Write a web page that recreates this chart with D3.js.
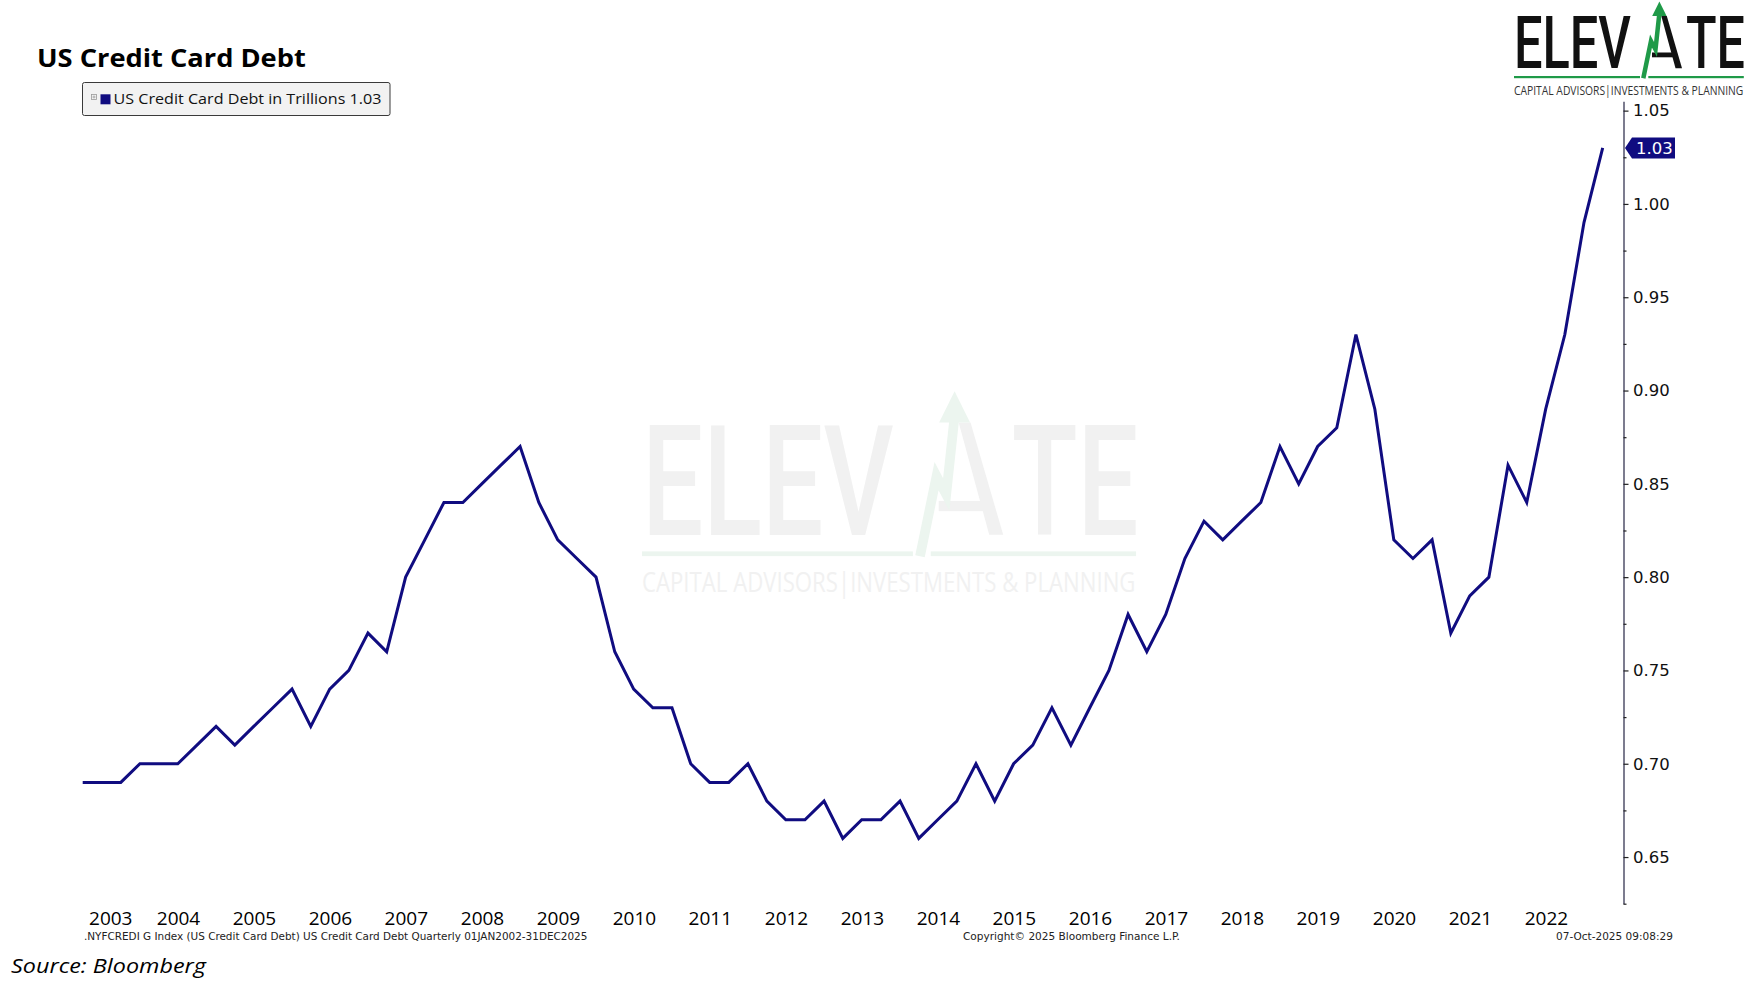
<!DOCTYPE html>
<html><head><meta charset="utf-8">
<script src="https://cdn.jsdelivr.net/npm/d3@7"></script>
<style>body{margin:0;background:#fff} svg{display:block}</style>
</head><body>
<svg id="chart" width="1752" height="985"></svg>
<script>
// ---------------- data ----------------
const chartTitle = "US Credit Card Debt";
const seriesName = "US Credit Card Debt in Trillions";
const firstYear = 2003;      // first observation: 2003 Q1 (quarter-end dated)
const firstQuarter = 1;
const debtValues = [
  0.69,0.69,0.69,0.70,0.70,0.70,0.71,0.72,0.71,0.72,
  0.73,0.74,0.72,0.74,0.75,0.77,0.76,0.80,0.82,0.84,
  0.84,0.85,0.86,0.87,0.84,0.82,0.81,0.80,0.76,0.74,
  0.73,0.73,0.70,0.69,0.69,0.70,0.68,0.67,0.67,0.68,
  0.66,0.67,0.67,0.68,0.66,0.67,0.68,0.70,0.68,0.70,
  0.71,0.73,0.71,0.73,0.75,0.78,0.76,0.78,0.81,0.83,
  0.82,0.83,0.84,0.87,0.85,0.87,0.88,0.93,0.89,0.82,
  0.81,0.82,0.77,0.79,0.80,0.86,0.84,0.89,0.93,0.99,
  1.03
];
const yearLabels = [2003,2004,2005,2006,2007,2008,2009,2010,2011,2012,2013,2014,2015,2016,2017,2018,2019,2020,2021,2022];
const yTickValues = [0.65,0.70,0.75,0.80,0.85,0.90,0.95,1.00,1.05];
const yMinorTicks = [0.625,0.675,0.725,0.775,0.825,0.875,0.925,0.975,1.025];
const footLeft = ".NYFCREDI G Index (US Credit Card Debt) US Credit Card Debt Quarterly 01JAN2002-31DEC2025";
const footMid = "Copyright\u00A9 2025 Bloomberg Finance L.P.";
const footRight = "07-Oct-2025 09:08:29";
const sourceText = "Source: Bloomberg";
const logoWord1 = "ELEV", logoWord2 = "TE";
const logoTag = "CAPITAL ADVISORS|INVESTMENTS & PLANNING";

// ---------------- setup ----------------
const svg = d3.select("#chart");
const NAVY = "#100c80";
const GREEN = "#1f9a48";
const axisX = 1623.5;

function quarterEnd(i){
  const q0 = (firstQuarter - 1) + i;
  const yr = firstYear + Math.floor(q0/4);
  const q = q0 % 4;
  return new Date(yr, 3*(q+1), 0);
}
const series = debtValues.map((v,i)=>({date: quarterEnd(i), value: v}));

const x = d3.scaleTime()
  .domain([series[0].date, series[series.length-1].date])
  .range([82.7, 1602.7]);
const y = d3.scaleLinear().domain([0.625, 1.055]).range([903.7, 101.3]);

// place text at (px,py) and compress horizontally to width w
function squeeze(sel, px, py, w){
  sel.attr("x",0).attr("y",0);
  const nat = sel.node().getComputedTextLength();
  sel.attr("transform", `translate(${px},${py}) scale(${w/nat},1)`);
  return sel;
}

// ---------------- logo ----------------
function drawLogo(g, c){
  const lf = "Roboto, 'Noto Sans', sans-serif";
  squeeze(g.append("text").attr("font-family",lf).attr("font-weight",500)
    .attr("font-size",71.5).attr("fill",c.ink).text(logoWord1), 0, 68.3, 117);
  squeeze(g.append("text").attr("font-family",lf).attr("font-weight",500)
    .attr("font-size",71.5).attr("fill",c.ink).text(logoWord2), 172, 68.3, 59);
  // right leg of A
  g.append("path").attr("d","M147.3,16 L152.8,16 L168,68.3 L161.5,68.3 Z").attr("fill",c.ink);
  // crossbar
  g.append("rect").attr("x",138).attr("y",52.5).attr("width",23).attr("height",4.8).attr("fill",c.ink);
  // green lightning arrow
  g.append("path").attr("d","M129.3,78.3 L137,41 L141.5,49.5 L145.3,14")
    .attr("fill","none").attr("stroke",c.green).attr("stroke-width",4.5)
    .attr("stroke-linejoin","miter").attr("stroke-miterlimit",6);
  g.append("path").attr("d","M145.4,1.5 L152.6,16 L138.2,16 Z").attr("fill",c.green);
  // underline
  g.append("rect").attr("x",0).attr("y",76).attr("width",126).attr("height",2.2).attr("fill",c.green);
  g.append("rect").attr("x",134.3).attr("y",76).attr("width",95.5).attr("height",2.2).attr("fill",c.green);
  squeeze(g.append("text").attr("font-family","'Open Sans', 'Noto Sans', sans-serif")
    .attr("font-size",12.3).attr("fill",c.tag).text(logoTag), 0, 95, 229.5);
}

// watermark
const wm = svg.append("g").attr("transform","translate(642,388) scale(2.15)");
drawLogo(wm, {ink:"#f1f1f1", green:"#ecf5ef", tag:"#f1f1f1"});
// top-right logo
const lg = svg.append("g").attr("transform","translate(1514,0)");
drawLogo(lg, {ink:"#111", green:GREEN, tag:"#333"});

// ---------------- title & legend ----------------
squeeze(svg.append("text")
  .attr("font-family","'Open Sans', 'Noto Sans', sans-serif").attr("font-weight",700)
  .attr("font-size",25.5).attr("fill","#000").text(chartTitle), 37, 66.7, 269);

const leg = svg.append("g");
leg.append("rect").attr("x",82.5).attr("y",82.5).attr("width",307.5).attr("height",33).attr("rx",2)
  .attr("fill","#f2f2f2").attr("stroke","#3a3a3a").attr("stroke-width",1);
leg.append("rect").attr("x",91.5).attr("y",94.5).attr("width",5).attr("height",5)
  .attr("fill","none").attr("stroke","#999").attr("stroke-width",0.8);
leg.append("path").attr("d","M92.5,97 H95.5 M94,95.5 V98.5").attr("stroke","#999").attr("stroke-width",0.8);
leg.append("rect").attr("x",100.5).attr("y",94.3).attr("width",10).attr("height",10).attr("fill",NAVY);
squeeze(leg.append("text")
  .attr("font-family","'Open Sans', 'Noto Sans', sans-serif")
  .attr("font-size",14.3).attr("fill","#111")
  .text(seriesName + " " + d3.format(".2f")(debtValues[debtValues.length-1])), 113.5, 104.3, 268);

// ---------------- axes ----------------
const yAxisG = svg.append("g").attr("transform",`translate(${axisX},0)`)
  .call(d3.axisRight(y).tickValues(yTickValues).tickFormat(d3.format(".2f"))
    .tickSize(5).tickSizeOuter(0).tickPadding(4.5));
yAxisG.select(".domain").attr("stroke","#50506a").attr("stroke-width",1.5);
yAxisG.selectAll(".tick line").attr("stroke","#222").attr("stroke-width",1.2);
yAxisG.selectAll(".tick text").attr("font-family","'DejaVu Sans', Verdana, sans-serif")
  .attr("font-size",16.5).attr("fill","#111");

const yMinorG = svg.append("g").attr("transform",`translate(${axisX},0)`)
  .call(d3.axisRight(y).tickValues(yMinorTicks).tickFormat("").tickSize(3).tickSizeOuter(0));
yMinorG.select(".domain").remove();
yMinorG.selectAll(".tick line").attr("stroke","#222").attr("stroke-width",1.2);

const yearMid = yearLabels.map(yr => new Date(yr, 6, 1));
const xAxisG = svg.append("g").attr("transform","translate(0,908)")
  .call(d3.axisBottom(x).tickValues(yearMid).tickFormat(d3.timeFormat("%Y")).tickSize(0).tickPadding(3));
xAxisG.select(".domain").remove();
xAxisG.selectAll(".tick text").attr("font-family","'Open Sans', 'Noto Sans', sans-serif")
  .attr("font-size",19).attr("fill","#000");
// keep first label inside the plot's left edge
xAxisG.selectAll(".tick text").each(function(){
  const bb = this.getBBox();
  const t = d3.select(this.parentNode).attr("transform");
  const tx = +t.match(/translate\(([-\d.]+)/)[1];
  if (tx + bb.x < 89) d3.select(this).attr("x", 89 - (tx + bb.x));
});

// ---------------- line ----------------
const line = d3.line().x(d=>x(d.date)).y(d=>y(d.value));
svg.append("path").datum(series).attr("d",line)
  .attr("fill","none").attr("stroke",NAVY).attr("stroke-width",3).attr("stroke-linejoin","miter");

// last value marker
const last = series[series.length-1];
const yv = y(last.value);
svg.append("path")
  .attr("d",`M${axisX+1.5},${yv} L${axisX+8.5},${yv-10.5} L1675,${yv-10.5} L1675,${yv+10.5} L${axisX+8.5},${yv+10.5} Z`)
  .attr("fill",NAVY);
svg.append("text").attr("x",1636).attr("y",yv+6)
  .attr("font-family","'DejaVu Sans', Verdana, sans-serif").attr("font-size",16.5)
  .attr("fill","#fff").text(d3.format(".2f")(last.value));

// ---------------- footers ----------------
const footFont = "'DejaVu Sans Condensed', 'DejaVu Sans', sans-serif";
squeeze(svg.append("text").attr("font-family",footFont)
  .attr("font-size",11).attr("fill","#222").text(footLeft), 84, 940, 504);
squeeze(svg.append("text").attr("font-family",footFont)
  .attr("font-size",11).attr("fill","#222").text(footMid), 963, 940, 217);
squeeze(svg.append("text").attr("font-family",footFont)
  .attr("font-size",11).attr("fill","#222").text(footRight), 1556, 940, 117);
squeeze(svg.append("text").attr("font-family","'Open Sans', 'Noto Sans', sans-serif")
  .attr("font-style","italic").attr("font-size",20).attr("fill","#000").text(sourceText), 11, 973, 195);
</script>
</body></html>
